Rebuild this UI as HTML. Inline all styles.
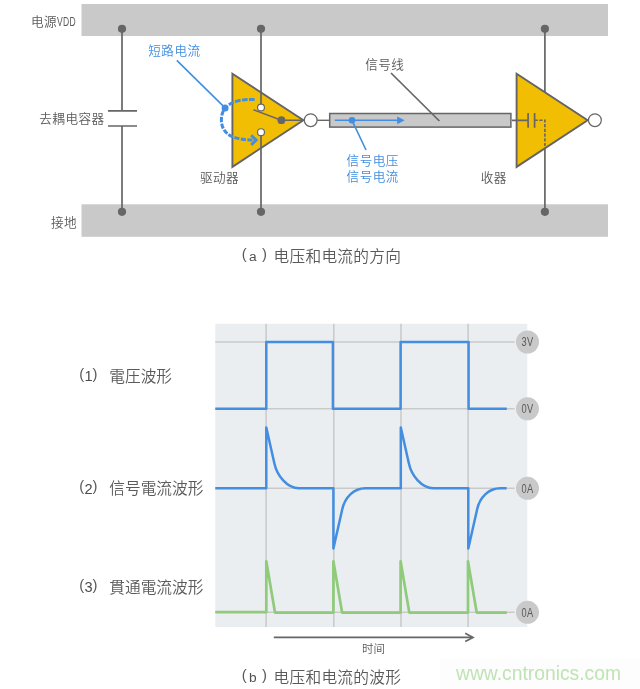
<!DOCTYPE html>
<html lang="zh">
<head>
<meta charset="utf-8">
<title>电压和电流的方向与波形</title>
<style>
html,body{margin:0;padding:0;background:#fff;}
body{width:640px;height:689px;overflow:hidden;}
svg{display:block;transform:translateZ(0);will-change:transform;}
.sc{font-family:"Liberation Sans","Noto Sans CJK SC",sans-serif;}
.jp{font-family:"Liberation Sans","Noto Sans CJK JP",sans-serif;}
.lb{font-size:12.6px;fill:#5a5a5a;font-weight:350;letter-spacing:.45px;}
.bl{font-size:12.6px;fill:#438ee0;font-weight:350;letter-spacing:.45px;}
.cap{font-size:15.7px;fill:#5a5a5a;font-weight:350;}
.pn{font-size:13.7px;fill:#505050;letter-spacing:0;}
.pp{font-size:14.8px;fill:#5a5a5a;letter-spacing:0;}
.pd{font-size:14.6px;fill:#4a4a4a;letter-spacing:0;}
.ln{stroke:#666;stroke-width:1.7;fill:none;}
.dot{fill:#666;}
.wv{stroke:#438ee0;stroke-width:2.5;fill:none;stroke-linejoin:round;}
.gw{stroke:#8fcb7a;stroke-width:2.7;fill:none;stroke-linejoin:round;}
.gr{stroke:#c9c9c9;stroke-width:1.5;fill:none;}
</style>
</head>
<body>
<svg width="640" height="689" viewBox="0 0 640 689">
<rect width="640" height="689" fill="#fff"/>

<!-- ===== (a) circuit ===== -->
<g id="circuit">
<rect x="81.5" y="4" width="526.5" height="32" fill="#c9c9c9"/>
<rect x="81.5" y="204.3" width="526.5" height="32.5" fill="#c9c9c9"/>

<!-- decoupling capacitor -->
<path class="ln" d="M122 29V110.8M122 126V212"/>
<path class="ln" d="M108 110.8H137M108 126H137"/>
<circle class="dot" cx="122" cy="28.8" r="4.1"/>
<circle class="dot" cx="122" cy="211.8" r="4.1"/>

<!-- driver -->
<path class="ln" d="M261 29V104M261 136V212"/>
<circle class="dot" cx="261" cy="28.8" r="4.1"/>
<circle class="dot" cx="261" cy="211.8" r="4.1"/>
<path d="M232.4 73.7V166.9L303.4 120.3Z" fill="#f2be03" stroke="#646464" stroke-width="1.9" stroke-linejoin="miter"/>
<path class="ln" d="M261 91V104M261 136V148"/>
<path class="ln" d="M253.5 109.8L281.3 120.3H303" style="stroke-width:1.5"/>
<circle cx="261" cy="107.5" r="3.45" fill="#fff" stroke="#666" stroke-width="1.2"/>
<circle cx="261" cy="132.2" r="3.45" fill="#fff" stroke="#666" stroke-width="1.2"/>
<circle class="dot" cx="281.4" cy="120.2" r="3.9"/>
<path class="ln" d="M303.4 120.3H329" style="stroke-width:1.4"/>
<circle cx="310.7" cy="120.2" r="6.4" fill="#fff" stroke="#666" stroke-width="1.2"/>

<!-- short-circuit current -->
<path d="M254.6 99.4C244 99.2 232 100.5 225.1 107.8" fill="none" stroke="#438ee0" stroke-width="3" stroke-dasharray="5.6 1.4 5.6 1.4 5.6 1.4 5.6 100"/>
<path d="M225.1 107.8C222.8 111 221.4 115 221.4 120C221.4 127 224.5 132.5 230.7 135.9C236 138.6 244 140.1 255 140.1" fill="none" stroke="#438ee0" stroke-width="3" stroke-dasharray="5.2 1.4" stroke-dashoffset="3.3"/>
<path d="M251.2 135.3L256.2 140.1L251.2 144.9" fill="none" stroke="#438ee0" stroke-width="2.9" stroke-linejoin="miter"/>
<path d="M176.8 60.4L225.1 107.9" stroke="#438ee0" stroke-width="1.6" fill="none"/>
<circle cx="225.1" cy="107.9" r="3.5" fill="#438ee0"/>

<!-- signal line -->
<rect x="329.7" y="113.5" width="181.2" height="13.6" fill="#c9c9c9" stroke="#666" stroke-width="1.5"/>
<path d="M334.7 120.3H398" stroke="#438ee0" stroke-width="1.6" fill="none"/>
<path d="M397.2 116.4L404.6 120.3L397.2 124.2Z" fill="#438ee0"/>
<circle cx="352" cy="120.3" r="3.3" fill="#438ee0"/>
<path d="M352 120.3L366 150" stroke="#438ee0" stroke-width="1.6" fill="none"/>
<path class="ln" d="M391 73L439.4 121"/>

<!-- receiver -->
<path class="ln" d="M544.9 29V95M544.9 145V212"/>
<circle class="dot" cx="544.9" cy="28.8" r="4.1"/>
<circle class="dot" cx="544.9" cy="211.8" r="4.1"/>
<path d="M516.6 73.7V166.9L587.6 120.3Z" fill="#f2be03" stroke="#646464" stroke-width="1.9"/>
<path class="ln" d="M512 120.3H528.1M528.1 112.9V127.7M534.6 112.9V127.7"/>
<path d="M534.6 120.3H544.9V148" fill="none" stroke="#666" stroke-width="1.6" stroke-dasharray="3.2 1.5"/>
<circle cx="594.9" cy="120.2" r="6.4" fill="#fff" stroke="#666" stroke-width="1.2"/>

<!-- labels -->
<text class="sc lb" x="31" y="25.8"><tspan>电源</tspan><tspan textLength="19" lengthAdjust="spacingAndGlyphs">VDD</tspan></text>
<text class="sc lb" x="39.3" y="123.4">去耦电容器</text>
<text class="sc lb" x="51" y="227.2">接地</text>
<text class="sc bl" x="148.3" y="54.8">短路电流</text>
<text class="sc lb" x="365.2" y="68.6">信号线</text>
<text class="sc lb" x="199.9" y="182.3">驱动器</text>
<text class="sc lb" x="480.8" y="182.3">收器</text>
<text class="sc bl" x="346.6" y="164.9">信号电压</text>
<text class="sc bl" x="346.6" y="180.5">信号电流</text>
<text class="sc cap" y="261.6"><tspan class="pp" x="241.8" dy="-2.4">(</tspan><tspan class="pn" x="248.9" dy="1.8">a</tspan><tspan class="pp" x="261.9" dy="-1.8">)</tspan><tspan x="273.5" dy="2.4" letter-spacing=".28">电压和电流的方向</tspan></text>
</g>

<!-- ===== (b) waveforms ===== -->
<g id="waves">
<rect x="215.3" y="323.8" width="312" height="303.2" fill="#eaeef1"/>
<path class="gr" d="M266.1 323.8V627M333.8 323.8V627M401 323.8V627M468.1 323.8V627"/>
<path class="gr" d="M215.3 342H514.6M215.3 408.8H514.6M215.3 488.3H514.6M215.3 612.2H514.6"/>

<path class="wv" d="M215.3 408.8H266.3V342.1H332.9V408.8H400.6V342.1H468.6V408.8H506.8"/>
<path class="wv" d="M215.3 488.3H266.3V427.5L274.4 463.6C277.0 475.6 287.0 488.3 299.0 488.3H333.4V548.6L342.2 509.4C344.8 497.4 353.6 488.3 365.6 488.3H400.8V427.5L408.9 463.6C411.5 475.6 421.5 488.3 433.5 488.3H468.3V548.6L477.1 509.4C479.7 497.4 488.5 488.3 500.5 488.3H506.6"/>
<path class="gw" d="M215.3 612.2H266.3V561.3L275 612.6H333.4V561.3L342.1 612.6H400.6V561.3L409.3 612.6H468V561.3L476.7 612.6H506.8"/>

<g fill="#c9c9c9">
<circle cx="527.5" cy="342" r="11.5"/><circle cx="527.5" cy="408.8" r="11.5"/>
<circle cx="527.5" cy="488.3" r="11.5"/><circle cx="527.5" cy="612.3" r="11.5"/>
</g>
<g class="sc lb" text-anchor="middle" style="font-size:12.2px">
<text x="527.5" y="346.4" textLength="12" lengthAdjust="spacingAndGlyphs">3V</text>
<text x="527.5" y="413.2" textLength="12" lengthAdjust="spacingAndGlyphs">0V</text>
<text x="527.5" y="492.7" textLength="12" lengthAdjust="spacingAndGlyphs">0A</text>
<text x="527.5" y="616.7" textLength="12" lengthAdjust="spacingAndGlyphs">0A</text>
</g>

<text class="jp cap" y="381.8"><tspan class="pp" x="79.2" dy="-2.9">(</tspan><tspan class="pd" x="84.5" dy="2.5">1</tspan><tspan class="pp" x="92.6" dy="-2.5">)</tspan><tspan x="109.3" dy="2.9">電圧波形</tspan></text>
<text class="jp cap" y="494.2"><tspan class="pp" x="79.2" dy="-2.9">(</tspan><tspan class="pd" x="84.5" dy="2.5">2</tspan><tspan class="pp" x="92.6" dy="-2.5">)</tspan><tspan x="109.3" dy="2.9">信号電流波形</tspan></text>
<text class="jp cap" y="592.8"><tspan class="pp" x="79.2" dy="-2.9">(</tspan><tspan class="pd" x="84.5" dy="2.5">3</tspan><tspan class="pp" x="92.6" dy="-2.5">)</tspan><tspan x="109.3" dy="2.9">貫通電流波形</tspan></text>

<path class="ln" d="M273.8 637.4H472.5"/>
<path class="ln" d="M465.2 633.2L473 637.4L465.2 641.6"/>
<text class="sc" x="362" y="653" font-size="11.4" font-weight="350" fill="#5a5a5a">时间</text>
<text class="sc cap" y="682.6"><tspan class="pp" x="241.8" dy="-2.4">(</tspan><tspan class="pn" x="248.9" dy="1.8">b</tspan><tspan class="pp" x="261.9" dy="-1.8">)</tspan><tspan x="273.5" dy="2.4" letter-spacing=".28">电压和电流的波形</tspan></text>

<rect x="440" y="659" width="200" height="30" fill="#fdfdfd"/>
<text x="456" y="680.3" font-family="'Liberation Sans',sans-serif" font-size="19.3" fill="#bfe3b4">www.cntronics.com</text>
</g>
</svg>
</body>
</html>
